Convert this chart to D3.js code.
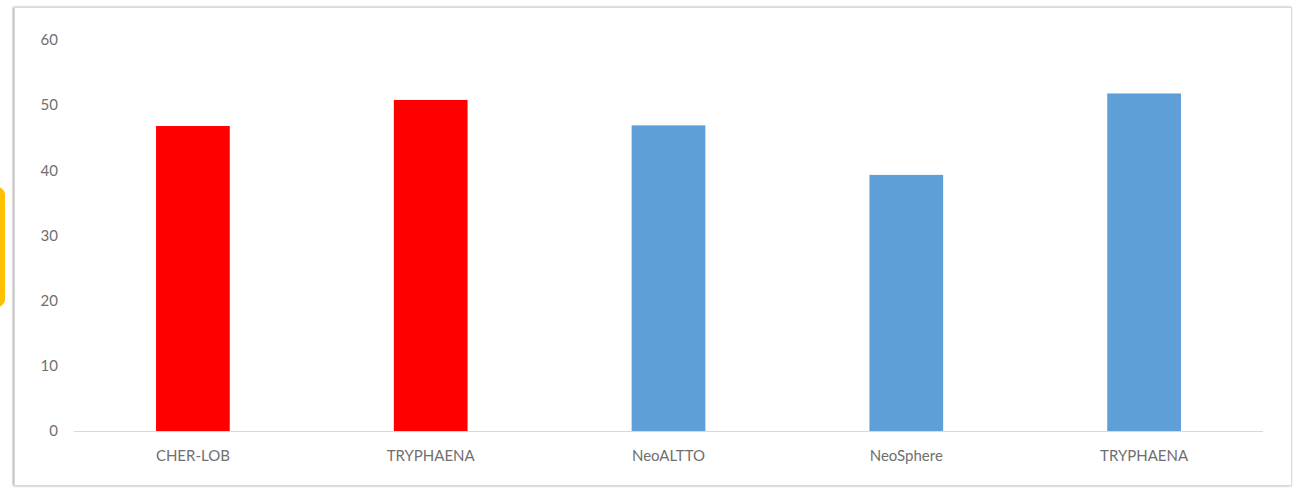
<!DOCTYPE html>
<html>
<head>
<meta charset="utf-8">
<script src="https://cdn.jsdelivr.net/npm/d3@7"></script>
<style>
    body { margin: 0; background: #fff; }
    svg { display: block; }
    text { font-family: Lato, "Open Sans", sans-serif; fill: #6f6f6f; }
</style>
</head>
<body>
<svg id="chart"></svg>
<script>
"use strict";

var categories = ["CHER-LOB", "TRYPHAENA", "NeoALTTO", "NeoSphere", "TRYPHAENA"];
var values = [46.8, 50.8, 46.9, 39.3, 51.8];
var barColors = ["#ff0000", "#ff0000", "#5f9fd8", "#5f9fd8", "#5f9fd8"];
var yTicks = [0, 10, 20, 30, 40, 50, 60];

var width = 1295, height = 488;
var margin = { left: 74, right: 32, top: 40, bottom: 57 };

var svg = d3.select("#chart")
    .attr("width", width)
    .attr("height", height);

// yellow shape peeking in at the left edge
svg.append("rect")
    .attr("x", -20).attr("y", 187)
    .attr("width", 25).attr("height", 120)
    .attr("rx", 8)
    .style("fill", "#ffc000");

// chart frame with a soft shadow
var defs = svg.append("defs");
var f = defs.append("filter").attr("id", "shadow")
    .attr("x", "-5%").attr("y", "-5%").attr("width", "110%").attr("height", "110%");
f.append("feDropShadow")
    .attr("dx", -1).attr("dy", 0).attr("stdDeviation", 1.2)
    .attr("flood-color", "#000").attr("flood-opacity", 0.35);

svg.append("rect")
    .attr("x", 14.5).attr("y", 7.5)
    .attr("width", 1277).attr("height", 478)
    .style("fill", "#fff")
    .style("stroke", "#d9d9d9")
    .style("stroke-width", 1)
    .attr("filter", "url(#shadow)");

var x = d3.scaleBand()
    .domain(d3.range(categories.length))
    .range([margin.left, width - margin.right])
    .paddingInner(0.69)
    .paddingOuter(0.345);

var y = d3.scaleLinear()
    .domain([0, 60])
    .range([height - margin.bottom, margin.top]);

// y labels
svg.append("g")
    .selectAll("text")
    .data(yTicks)
    .enter()
    .append("text")
    .attr("x", 58)
    .attr("y", d => y(d))
    .attr("dy", "0.35em")
    .attr("text-anchor", "end")
    .style("font-size", "15px")
    .text(d => d);

// bars
svg.append("g")
    .selectAll("rect")
    .data(values)
    .enter()
    .append("rect")
    .attr("x", (d, i) => x(i))
    .attr("y", d => y(d))
    .attr("width", x.bandwidth())
    .attr("height", d => y(0) - y(d))
    .style("fill", (d, i) => barColors[i]);

// baseline
svg.append("line")
    .attr("x1", margin.left).attr("x2", width - margin.right)
    .attr("y1", y(0) + 0.5).attr("y2", y(0) + 0.5)
    .style("stroke", "#d9d9d9");

// category labels
svg.append("g")
    .selectAll("text")
    .data(categories)
    .enter()
    .append("text")
    .attr("x", (d, i) => x(i) + x.bandwidth() / 2)
    .attr("y", y(0) + 25)
    .attr("dy", "0.35em")
    .attr("text-anchor", "middle")
    .style("font-size", "15px")
    .text(d => d);
</script>
</body>
</html>
